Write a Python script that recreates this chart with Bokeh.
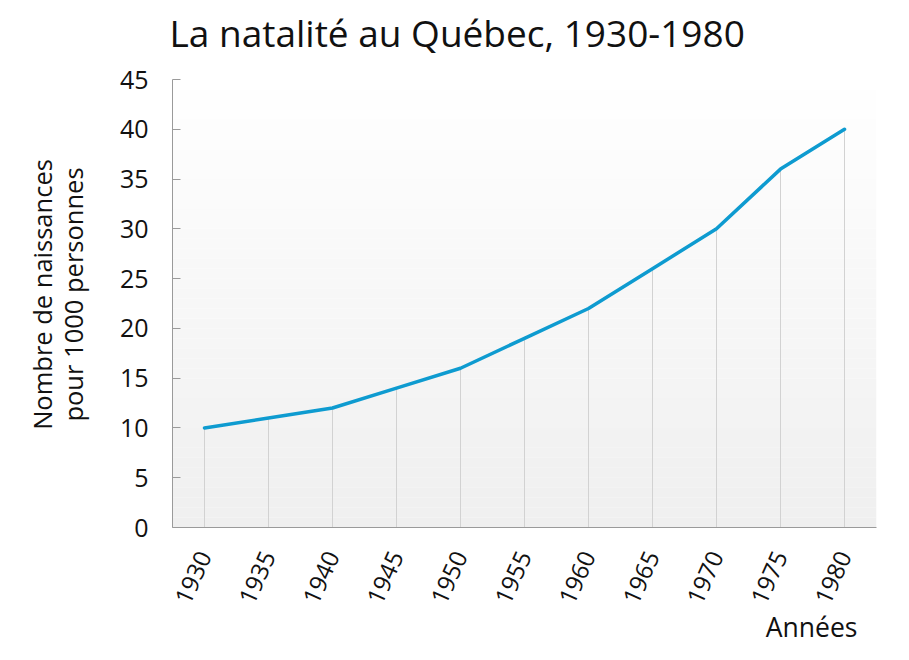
from bokeh.plotting import figure
from bokeh.models import Range1d, FixedTicker, BoxAnnotation, Title
from bokeh.embed import file_html
from bokeh.resources import INLINE

# ---- data ----
years = [1930, 1935, 1940, 1945, 1950, 1955, 1960, 1965, 1970, 1975, 1980]
births = [10, 11, 12, 14, 16, 19, 22, 26, 30, 36, 40]
y_ticks = [0, 5, 10, 15, 20, 25, 30, 35, 40, 45]

title_text = "La natalité au Québec, 1930-1980"
y_label = "Nombre de naissances\npour 1000 personnes"
x_label = "Années"

FONT = "Open Sans"
TXT = "#111111"

# layout: frame spans 466 px vertically, of which the lowest 448 px hold 0..45
FRAME_TOP, FRAME_BOTTOM = 61, 527
AXIS_PX = 448
y_end = y_ticks[-1] * (FRAME_BOTTOM - FRAME_TOP) / AXIS_PX

p = figure(width=893, height=644, output_backend="svg", toolbar_location=None,
           x_range=Range1d(years[0] - 2.5, years[-1] + 2.5),
           y_range=Range1d(y_ticks[0], y_end),
           min_border_left=172, min_border_top=FRAME_TOP, min_border_right=17,
           min_border_bottom=644 - FRAME_BOTTOM)

p.outline_line_color = None
p.background_fill_color = "white"
p.border_fill_color = "white"
p.xgrid.grid_line_color = None
p.ygrid.grid_line_color = None

# title
p.title.text = title_text
p.title.text_font = FONT
p.title.text_font_size = "37px"
p.title.text_font_style = "normal"
p.title.text_color = TXT
p.title.align = "left"
p.title.vertical_align = "top"
p.title.offset = -3
p.title.standoff = 4

# vertical gradient background over 0..45 (white at top to light grey at bottom)
n_bands = 45
top_c = (255, 255, 255)
bot_c = (239, 239, 239)
span = y_ticks[-1] - y_ticks[0]
for i in range(n_bands):
    b = y_ticks[0] + span * i / n_bands
    t = y_ticks[0] + span * (i + 1) / n_bands
    f = (i + 0.5) / n_bands
    c = tuple(int(round(bot_c[k] + (top_c[k] - bot_c[k]) * f)) for k in range(3))
    p.add_layout(BoxAnnotation(bottom=b, top=t, fill_color="#%02x%02x%02x" % c,
                               fill_alpha=1.0, line_color=None, level="underlay"))

# drop lines from each point down to the axis
p.segment(x0=years, y0=[0] * len(years), x1=years, y1=births,
          line_color="#d2d2d2", line_width=1)

# the series
p.line(years, births, line_color="#0e9bd0", line_width=3.5, line_join="round", line_cap="round")

# y axis
ya = p.yaxis[0]
ya.ticker = FixedTicker(ticks=y_ticks)
ya.bounds = (y_ticks[0], y_ticks[-1])
ya.axis_line_color = "#9a9a9a"
ya.major_tick_line_color = "#9a9a9a"
ya.major_tick_in = 8
ya.major_tick_out = 0
ya.minor_tick_line_color = None
ya.major_label_standoff = 24
ya.major_label_text_font = FONT
ya.major_label_text_font_size = "25px"
ya.major_label_text_color = TXT
ya.axis_label = y_label
ya.axis_label_text_font = FONT
ya.axis_label_text_font_size = "25.5px"
ya.axis_label_text_font_style = "normal"
ya.axis_label_text_color = TXT
ya.axis_label_text_line_height = 0.92
ya.axis_label_standoff = 27

# x axis
xa = p.xaxis[0]
xa.ticker = FixedTicker(ticks=years)
xa.axis_line_color = "#9a9a9a"
xa.major_tick_line_color = None
xa.major_tick_in = 0
xa.major_tick_out = 0
xa.minor_tick_line_color = None
xa.major_label_orientation = 1.15
xa.major_label_standoff = 25
xa.major_label_text_font = FONT
xa.major_label_text_font_size = "24px"
xa.major_label_text_color = TXT

# x axis title at bottom right
p.add_layout(Title(text=x_label, align="right", offset=19, standoff=-12,
                   text_font=FONT, text_font_size="26.5px", text_font_style="normal",
                   text_color=TXT), "below")

open("out.html", "w").write(file_html(p, INLINE))
